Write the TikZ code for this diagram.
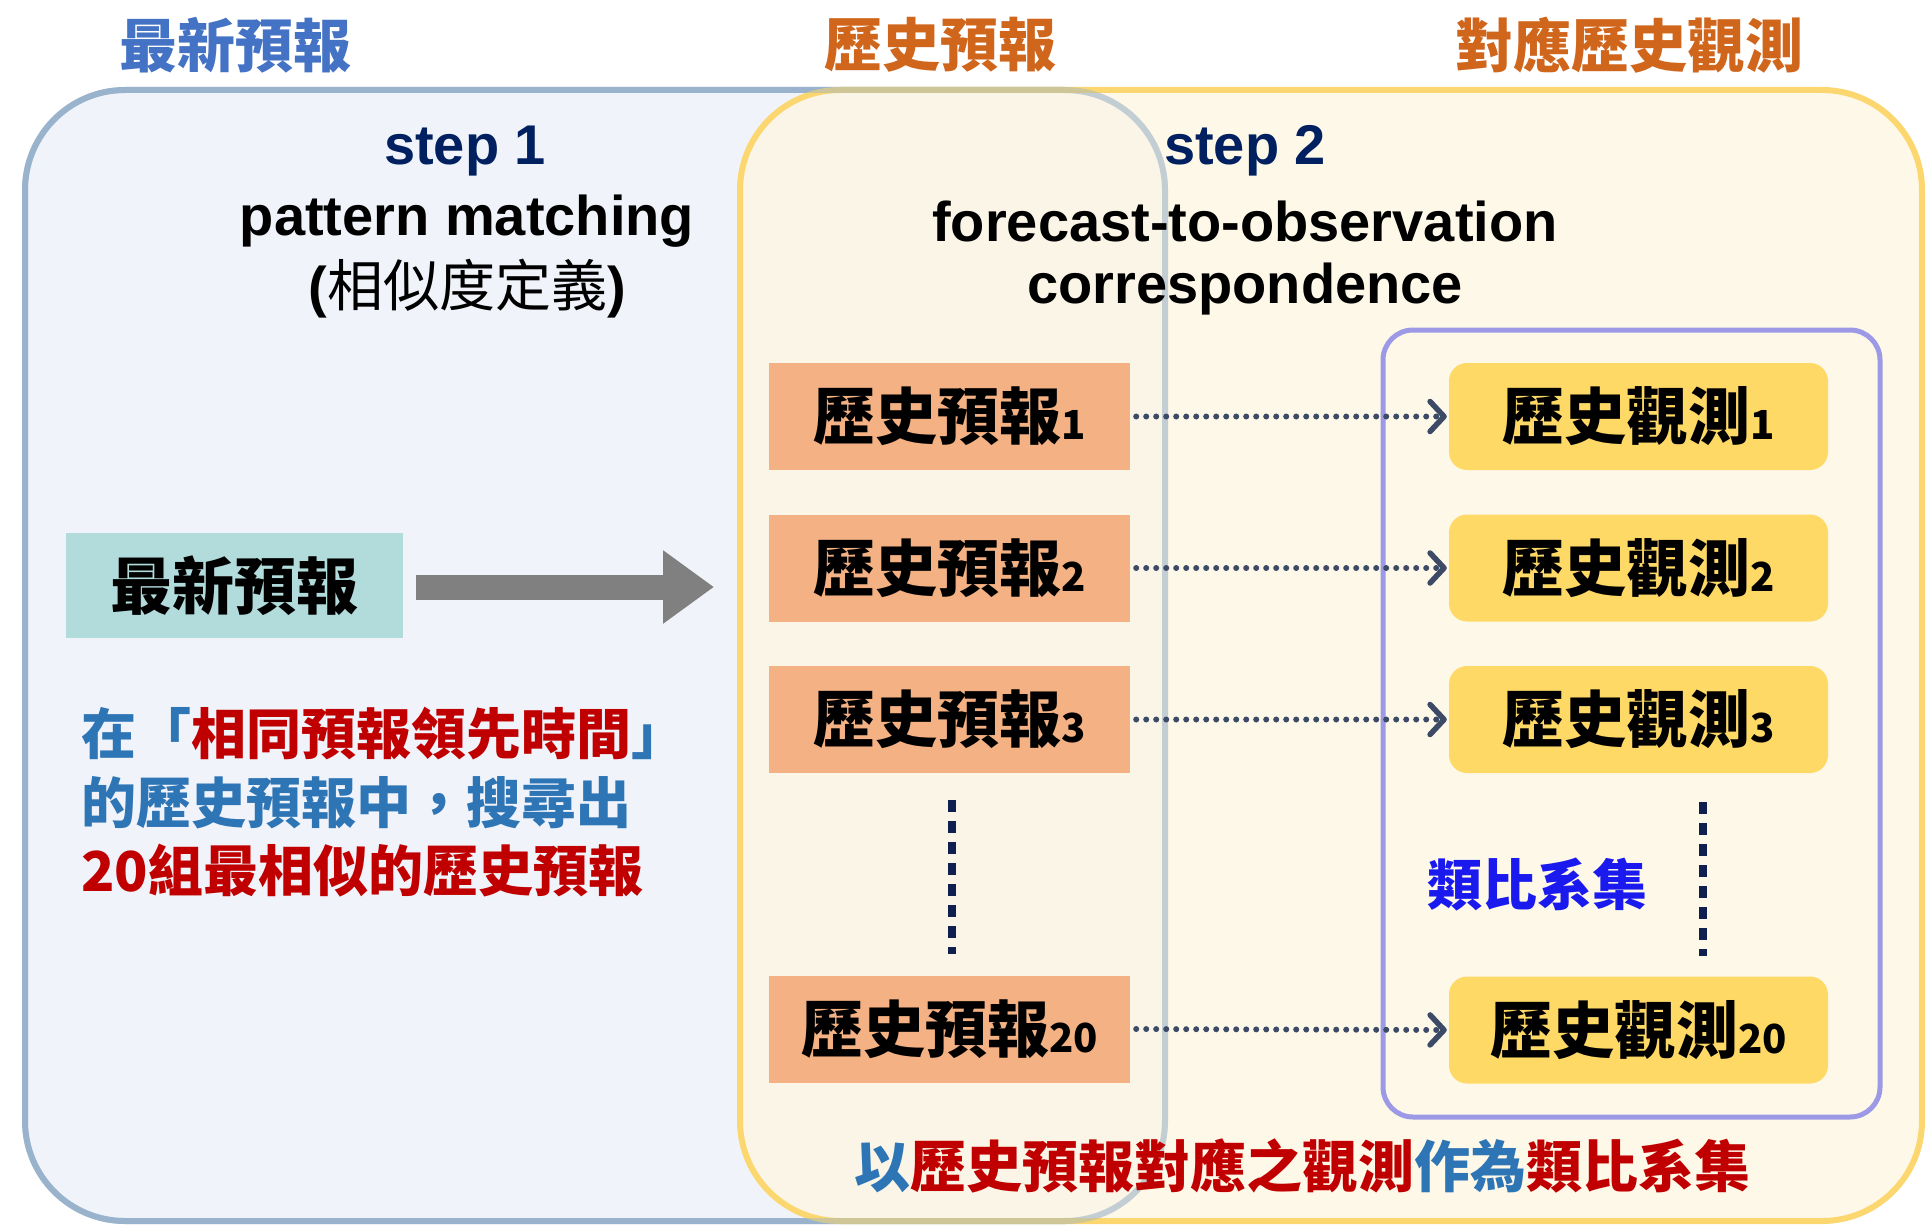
\documentclass[tikz,border=0pt]{standalone}
\usepackage{fontspec}
\setmainfont{Liberation Sans}
\newfontfamily\cjk{Noto Sans CJK TC}
\usetikzlibrary{arrows.meta}
\definecolor{bluebord}{HTML}{9AB3CC}
\definecolor{bluefill}{HTML}{F0F4FA}
\definecolor{yelbord}{HTML}{FCD66E}
\definecolor{yelfill}{HTML}{FEF6E0}
\definecolor{purpbord}{HTML}{9C9AE6}
\definecolor{orfill}{HTML}{F4B183}
\definecolor{obsfill}{HTML}{FFD966}
\definecolor{newfill}{HTML}{B2DBDB}
\definecolor{tblue}{HTML}{4472C4}
\definecolor{torange}{HTML}{D0651C}
\definecolor{navy}{HTML}{002060}
\definecolor{pblue}{HTML}{2E75B6}
\definecolor{pred}{HTML}{C00000}
\definecolor{setblue}{HTML}{1A1AEE}
\definecolor{arrgray}{HTML}{3C4A66}
\definecolor{dotnavy}{HTML}{0F2050}
\definecolor{bigarrow}{HTML}{808080}
\tikzset{
  titletext/.style={font=\cjk\bfseries\fontsize{58}{64}\selectfont, inner sep=0pt},
  steptext/.style={font=\bfseries\fontsize{56}{62}\selectfont, inner sep=0pt},
  forebox/.style={fill=orfill, minimum width=361pt, minimum height=107pt, inner sep=0pt,
    font=\cjk\bfseries\fontsize{62}{70}\selectfont},
  obsbox/.style={fill=obsfill, rounded corners=18pt, minimum width=379pt, minimum height=107pt, inner sep=0pt,
    font=\cjk\bfseries\fontsize{62}{70}\selectfont},
  paratext/.style={font=\cjk\bfseries\fontsize{55}{62}\selectfont, inner sep=0pt, anchor=west},
  dotarrow/.style={draw=arrgray, line width=6pt, line cap=round, dash pattern=on 0pt off 10pt,
    -{Straight Barb[length=14pt,width=30pt,line width=5.5pt,round]}},
  vdots/.style={draw=dotnavy, line width=8pt, dash pattern=on 12pt off 9pt},
}
\newcommand{\subn}[1]{{\fontsize{40}{40}\selectfont #1}}
\begin{document}
\begin{tikzpicture}[x=1pt,y=-1pt]
\useasboundingbox (0,0) rectangle (1927,1225);
% big regions
\path[fill=bluefill, draw=bluebord, line width=6pt, rounded corners=100pt] (25,90) rectangle (1165,1221);
\path[fill=yelfill, fill opacity=0.75, rounded corners=100pt] (740,90) rectangle (1922,1221);
\path[draw=yelbord, line width=6pt, rounded corners=100pt] (740,90) rectangle (1922,1221);
\path[draw=bluebord, draw opacity=0.45, line width=6pt, rounded corners=100pt] (25,90) rectangle (1165,1221);
% purple set box
\path[draw=purpbord, line width=5pt, rounded corners=30pt] (1383,330) rectangle (1880,1117);

% titles
\node[titletext, text=tblue] (t1) at (235,45) {最新預報};
\node[titletext, text=torange] (t2) at (940,45) {歷史預報};
\node[titletext, text=torange] (t3) at (1629,45) {對應歷史觀測};

% step texts
\node[steptext, text=navy] (s1) at (465,151) {step 1};
\node[steptext] (s1a) at (467,221) {pattern matching};
\node[steptext] (s1b) at (467,289) {({\cjk\mdseries 相似度定義})};
\node[steptext, text=navy] (s2) at (1245,151) {step 2};
\node[steptext] (s2a) at (1245,221) {forecast-to-observation};
\node[steptext] (s2b) at (1245,289) {correspondence};

% newest forecast
\node[fill=newfill, minimum width=337pt, minimum height=105pt, inner sep=0pt,
  font=\cjk\bfseries\fontsize{62}{70}\selectfont] (new) at (234.5,585.5) {最新預報};
\coordinate (bigstart) at (416,587);
\coordinate (bigend) at (714,587);
\draw[bigarrow, line width=25pt, -{Triangle[length=51pt,width=70pt]}] (bigstart) -- (bigend);

% paragraph
\node[paratext] (p1) at (81,734) {\color{pblue}在「\color{pred}相同預報領先時間\color{pblue}」};
\node[paratext, text=pblue] (p2) at (81,803) {的歷史預報中，搜尋出};
\node[paratext, text=pred] (p3) at (81,871) {20組最相似的歷史預報};

% forecast boxes
\node[forebox] (f1) at (949.5,416.5) {歷史預報\subn{1}};
\node[forebox] (f2) at (949.5,568) {歷史預報\subn{2}};
\node[forebox] (f3) at (949.5,719.5) {歷史預報\subn{3}};
\node[forebox] (f20) at (949.5,1029) {歷史預報\subn{20}};

% observation boxes
\node[obsbox] (o1) at (1638.5,416.5) {歷史觀測\subn{1}};
\node[obsbox] (o2) at (1638.5,568) {歷史觀測\subn{2}};
\node[obsbox] (o3) at (1638.5,719.5) {歷史觀測\subn{3}};
\node[obsbox] (o20) at (1638.5,1030) {歷史觀測\subn{20}};

% arrows
\draw[dotarrow] ([xshift=6pt]f1.east) -- ([xshift=-2pt]o1.west);
\draw[dotarrow] ([xshift=6pt]f2.east) -- ([xshift=-2pt]o2.west);
\draw[dotarrow] ([xshift=6pt]f3.east) -- ([xshift=-2pt]o3.west);
\draw[dotarrow] ([xshift=6pt]f20.east) -- ([xshift=-2pt]o20.west);

% vertical dots
\coordinate (ld1) at (952,800);
\coordinate (ld2) at (952,954);
\coordinate (rd1) at (1703,802);
\coordinate (rd2) at (1703,956);
\draw[vdots] (ld1) -- (ld2);
\draw[vdots] (rd1) -- (rd2);

% set label
\node[font=\cjk\bfseries\fontsize{55}{62}\selectfont, text=setblue, inner sep=0pt] (setlbl) at (1537,885) {類比系集};

% bottom caption
\node[font=\cjk\bfseries\fontsize{56}{62}\selectfont, inner sep=0pt] (cap) at (1302,1166)
  {\color{pblue}以\color{pred}歷史預報對應之觀測\color{pblue}作為\color{pred}類比系集};
\end{tikzpicture}
\end{document}
